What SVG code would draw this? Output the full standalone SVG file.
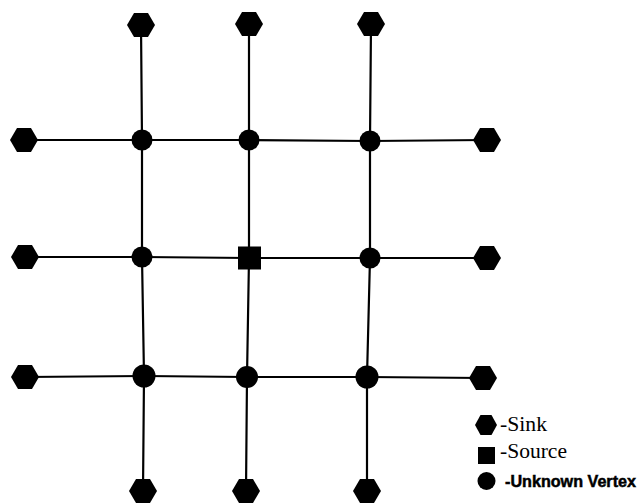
<svg xmlns="http://www.w3.org/2000/svg" xmlns:xlink="http://www.w3.org/1999/xlink" width="640" height="504" viewBox="0 0 640 504">
<style>
.edge{stroke:#000;stroke-width:2.2;fill:none;stroke-linecap:round}
.n{fill:#000}
.lbl{font-family:"Liberation Serif","Times New Roman",serif;font-size:20px;fill:#000}
.lblb{font-family:"Liberation Sans Narrow","Liberation Sans",Arial,sans-serif;font-size:16px;font-weight:bold;fill:#000;stroke:#000;stroke-width:0.5}
</style>
<defs>
<polygon id="hex" points="-14,0 -7,-12 7,-12 14,0 7,12 -7,12"/>
</defs>
<rect width="640" height="504" fill="#fff"/>
<g id="connectors">
<line class="edge" x1="141" y1="25" x2="142" y2="140"/>
<line class="edge" x1="142" y1="140" x2="142" y2="257"/>
<line class="edge" x1="142" y1="257" x2="144" y2="376"/>
<line class="edge" x1="144" y1="376" x2="143" y2="491"/>
<line class="edge" x1="249" y1="24" x2="249" y2="140"/>
<line class="edge" x1="249" y1="140" x2="249" y2="258"/>
<line class="edge" x1="249" y1="258" x2="247" y2="377"/>
<line class="edge" x1="247" y1="377" x2="246" y2="491"/>
<line class="edge" x1="371" y1="24" x2="370" y2="141"/>
<line class="edge" x1="370" y1="141" x2="370" y2="258"/>
<line class="edge" x1="370" y1="258" x2="367" y2="377"/>
<line class="edge" x1="367" y1="377" x2="367" y2="491"/>
<line class="edge" x1="24" y1="140" x2="142" y2="140"/>
<line class="edge" x1="142" y1="140" x2="249" y2="140"/>
<line class="edge" x1="249" y1="140" x2="370" y2="141"/>
<line class="edge" x1="370" y1="141" x2="487" y2="140"/>
<line class="edge" x1="25" y1="257" x2="142" y2="257"/>
<line class="edge" x1="142" y1="257" x2="249" y2="258"/>
<line class="edge" x1="249" y1="258" x2="370" y2="258"/>
<line class="edge" x1="370" y1="258" x2="487" y2="258"/>
<line class="edge" x1="25" y1="377" x2="144" y2="376"/>
<line class="edge" x1="144" y1="376" x2="247" y2="377"/>
<line class="edge" x1="247" y1="377" x2="367" y2="377"/>
<line class="edge" x1="367" y1="377" x2="483" y2="378"/>
</g>
<g id="sink_t1"><use xlink:href="#hex" class="n" x="141" y="25"/></g>
<g id="sink_t2"><use xlink:href="#hex" class="n" x="249" y="24"/></g>
<g id="sink_t3"><use xlink:href="#hex" class="n" x="371" y="24"/></g>
<g id="sink_l1"><use xlink:href="#hex" class="n" x="24" y="140"/></g>
<g id="sink_l2"><use xlink:href="#hex" class="n" x="25" y="257"/></g>
<g id="sink_l3"><use xlink:href="#hex" class="n" x="25" y="377"/></g>
<g id="sink_r1"><use xlink:href="#hex" class="n" x="487" y="140"/></g>
<g id="sink_r2"><use xlink:href="#hex" class="n" x="487" y="258"/></g>
<g id="sink_r3"><use xlink:href="#hex" class="n" x="483" y="378"/></g>
<g id="sink_b1"><use xlink:href="#hex" class="n" x="143" y="491"/></g>
<g id="sink_b2"><use xlink:href="#hex" class="n" x="246" y="491"/></g>
<g id="sink_b3"><use xlink:href="#hex" class="n" x="367" y="491"/></g>
<g id="v11"><circle class="n" cx="142" cy="140" r="10.5"/></g>
<g id="v12"><circle class="n" cx="249" cy="140" r="10.5"/></g>
<g id="v13"><circle class="n" cx="370" cy="141" r="10.5"/></g>
<g id="v21"><circle class="n" cx="142" cy="257" r="10.5"/></g>
<g id="source"><rect class="n" x="238" y="246.5" width="23" height="23"/></g>
<g id="v23"><circle class="n" cx="370" cy="258" r="10.5"/></g>
<g id="v31"><circle class="n" cx="144" cy="376" r="11.5"/></g>
<g id="v32"><circle class="n" cx="247" cy="377" r="11"/></g>
<g id="v33"><circle class="n" cx="367" cy="377" r="11.5"/></g>
<g id="legend">
<polygon class="n" points="475,425 480.5,415 491.5,415 497,425 491.5,435 480.5,435"/>
<text class="lbl" x="500" y="431" textLength="47" lengthAdjust="spacingAndGlyphs">-Sink</text>
<rect class="n" x="478" y="447" width="17" height="17"/>
<text class="lbl" x="500" y="458" textLength="67" lengthAdjust="spacingAndGlyphs">-Source</text>
<circle class="n" cx="486.5" cy="481" r="9"/>
<text class="lblb" x="505" y="487" textLength="131" lengthAdjust="spacingAndGlyphs">-Unknown Vertex</text>
</g>
</svg>
